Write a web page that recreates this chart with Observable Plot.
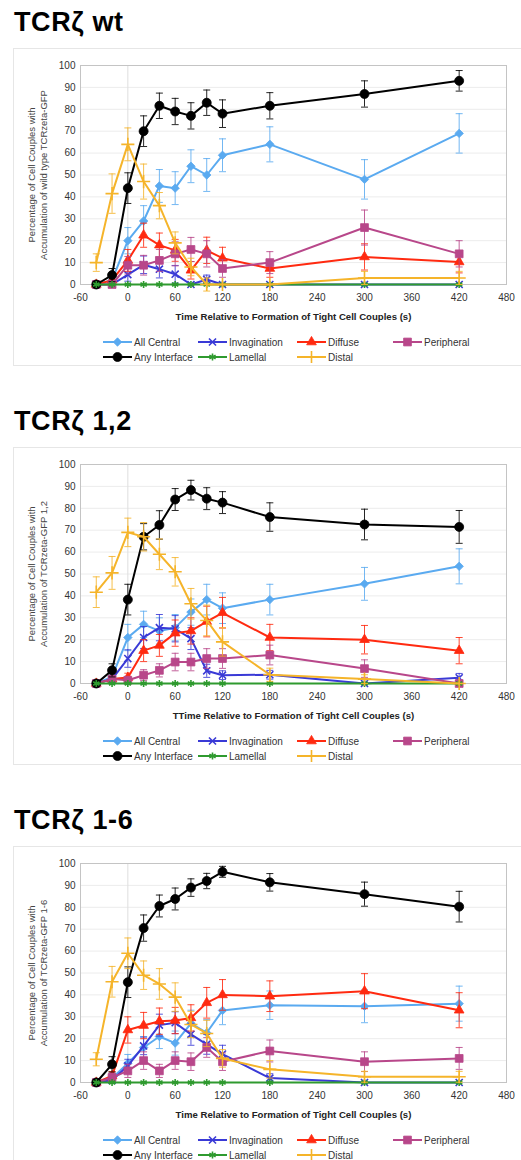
<!DOCTYPE html>
<html>
<head>
<meta charset="utf-8">
<script src="https://cdn.jsdelivr.net/npm/d3@7"></script>
<script src="https://cdn.jsdelivr.net/npm/@observablehq/plot@0.6"></script>
<style>
  html, body { margin: 0; padding: 0; background: #fff; }
  body { width: 521px; height: 1160px; overflow: hidden; font-family: "Liberation Sans", Arial, sans-serif; }
  .panel { position: relative; width: 521px; height: 399px; overflow: hidden; }
  .title { position: absolute; left: 14px; top: 7px; font-size: 27px; letter-spacing: 0.6px; font-weight: bold; color: #000; line-height: 30px; white-space: nowrap; }
  .box { position: absolute; left: 13px; top: 48px; width: 520px; height: 318px; border: 1px solid #e6e6e6; box-sizing: border-box; }
  .legend { position: absolute; left: 0; top: 335px; width: 521px; height: 30px; }
  .item { position: absolute; height: 14px; display: flex; align-items: center; font-size: 10px; color: #333; white-space: nowrap; }
  .item svg { margin-right: 2px; }
</style>
</head>
<body>
<div id="root"></div>
<script>
// ---- shared categories / ticks ----
const times = [-40, -20, 0, 20, 40, 60, 80, 100, 120, 180, 300, 420];
const seriesNames = ["All Central", "Invagination", "Diffuse", "Peripheral", "Any Interface", "Lamellal", "Distal"];
const seriesColors = ["#5aaaf0", "#3a3ad6", "#ff2a10", "#b8478a", "#000000", "#2f9a2f", "#f5b42a"];
const seriesSymbols = ["diamond2", "times", "triangle", "square", "circle", "asterisk", "plus"];
const xTicks = [-60, 0, 60, 120, 180, 240, 300, 360, 420, 480];
const yTicks = [0, 10, 20, 30, 40, 50, 60, 70, 80, 90, 100];
const titles = ["TCRζ wt", "TCRζ 1,2", "TCRζ 1-6"];
const yLabels = [
  "Percentage of Cell Couples with\nAccumulation of wild type TCRzeta-GFP",
  "Percentage of Cell Couples with\nAccumulation of TCRzeta-GFP 1,2",
  "Percentage of Cell Couples with\nAccumulation of TCRzeta-GFP 1-6"
];
const xLabels = [
  "Time Relative to Formation of Tight Cell Couples (s)",
  "TTime Relative to Formation of Tight Cell Couples (s)",
  "Time Relative to Formation of Tight Cell Couples (s)"
];

// ---- panel 1: wt ----
const wtAllCentral     = [0, 2, 20, 29, 45, 44, 54, 50, 59, 64, 48, 69];
const wtAllCentralErr  = [0, 2, 6, 7, 7.5, 7.5, 7.5, 7.5, 7.5, 8, 9, 9];
const wtInvagination   = [0, 0, 4.5, 9, 7, 4.7, 0, 2.3, 0, 0, 0, 0];
const wtInvaginationErr= [0, 0, 3, 4, 4, 4, 0, 2, 0, 0, 0, 0];
const wtDiffuse        = [0, 2, 11, 22.5, 18, 15.6, 6.5, 15.6, 12, 7.3, 12.6, 10.3];
const wtDiffuseErr     = [0, 2, 5, 5.5, 5.5, 5, 4, 6, 5, 4, 6, 5];
const wtPeripheral     = [0, 0, 8.8, 8.8, 11, 14, 16, 14, 7.3, 10, 26, 14];
const wtPeripheralErr  = [0, 0, 4, 4.5, 5, 5.5, 5.5, 6, 4, 5, 8, 6];
const wtAnyInterface   = [0, 4.3, 44, 70, 81.6, 79, 77, 83, 78, 81.6, 87, 93];
const wtAnyInterfaceErr= [0, 3, 7, 7, 5.8, 6, 6, 5.8, 6.3, 6, 6, 4.7];
const wtLamellal       = [0, 0, 0, 0, 0, 0, 0, 0, 0, 0, 0, 0];
const wtLamellalErr    = [0, 0, 0, 0, 0, 0, 0, 0, 0, 0, 0, 0];
const wtDistal         = [10, 41.5, 64, 47, 36, 19, 8, 0, 0, 0, 3, 3];
const wtDistalErr      = [4, 9, 7.5, 8, 6, 5, 4, 3, 0, 0, 3, 3];

// ---- panel 2: 1,2 ----
const m12AllCentral     = [0, 3, 21, 27, 24, 25.5, 32.6, 38.3, 34.4, 38.3, 45.5, 53.5];
const m12AllCentralErr  = [0, 2, 6, 6, 6, 6, 6, 7, 7, 7, 7.5, 8];
const m12Invagination   = [0, 2, 11.4, 21, 25.5, 25, 20.5, 5.8, 3.8, 4, 0, 2.6];
const m12InvaginationErr= [0, 1, 4, 5, 6, 6, 5, 3, 2, 2, 0, 2];
const m12Diffuse        = [0, 2, 2.7, 15, 17.4, 23, 24, 28.3, 32.3, 21, 20, 15];
const m12DiffuseErr     = [0, 1, 2, 5, 5, 6, 6, 7, 7, 6, 6.5, 6];
const m12Peripheral     = [0, 2, 1.5, 3.8, 6, 9.8, 9.8, 11.4, 11.4, 13, 6.8, 0];
const m12PeripheralErr  = [0, 1, 1.5, 2.5, 3, 4, 4, 4.5, 4.5, 4.5, 4, 0];
const m12AnyInterface   = [0, 6, 38.3, 67, 72.4, 84, 88.3, 84.4, 82.6, 76, 72.6, 71.5];
const m12AnyInterfaceErr= [0, 3, 7, 6, 6.5, 5, 4.5, 5, 5, 6.5, 7, 7.5];
const m12Lamellal       = [0, 0, 0, 0, 0, 0, 0, 0, 0, 0, 0, 0];
const m12LamellalErr    = [0, 0, 0, 0, 0, 0, 0, 0, 0, 0, 0, 0];
const m12Distal         = [41.7, 50.5, 69, 67, 59, 51, 36.4, 28.8, 19, 4, 2, 0];
const m12DistalErr      = [7, 7.5, 6.5, 6.5, 7, 6.5, 7, 7, 6.5, 3, 2, 0];

// ---- panel 3: 1-6 ----
const m16AllCentral     = [0, 2, 8.8, 16, 21, 18, 27, 22.7, 32.9, 35.3, 34.8, 36];
const m16AllCentralErr  = [0, 1, 4, 5, 5.5, 5.5, 6, 6, 6.5, 6.5, 7.5, 8];
const m16Invagination   = [0, 1, 7.6, 16.7, 26.2, 27.3, 22, 17.4, 13, 2, 0, 0];
const m16InvaginationErr= [0, 1, 3, 4, 5, 5, 5, 4.5, 4, 2, 0, 0];
const m16Diffuse        = [0, 3, 24, 26, 28, 28.3, 29.5, 36.4, 40, 39.4, 41.7, 33];
const m16DiffuseErr     = [0, 2, 6, 6, 6, 6, 6, 7, 7, 7, 8, 8];
const m16Peripheral     = [0, 2.3, 5.3, 10, 5.3, 10, 9.5, 16, 9.5, 14.4, 9.5, 11];
const m16PeripheralErr  = [0, 2, 3, 4, 3, 4, 4, 4.5, 4, 5, 4.5, 5];
const m16AnyInterface   = [0, 8.3, 45.8, 70.5, 80.6, 83.8, 89, 92, 96.2, 91.4, 86, 80.3];
const m16AnyInterfaceErr= [0, 3.5, 7, 6, 5, 5, 4, 3.5, 2.5, 4, 5.5, 7];
const m16Lamellal       = [0, 0, 0, 0, 0, 0, 0, 0, 0, 0, 0, 0];
const m16LamellalErr    = [0, 0, 0, 0, 0, 0, 0, 0, 0, 0, 0, 0];
const m16Distal         = [10.6, 46, 59, 49, 45, 39, 26.5, 22.4, 11, 6, 2.6, 2.6];
const m16DistalErr      = [3, 7, 7, 6.5, 7, 6.5, 6, 6, 4, 4, 2.5, 2.5];

const panelValues = [
  [wtAllCentral, wtInvagination, wtDiffuse, wtPeripheral, wtAnyInterface, wtLamellal, wtDistal],
  [m12AllCentral, m12Invagination, m12Diffuse, m12Peripheral, m12AnyInterface, m12Lamellal, m12Distal],
  [m16AllCentral, m16Invagination, m16Diffuse, m16Peripheral, m16AnyInterface, m16Lamellal, m16Distal]
];
const panelErrors = [
  [wtAllCentralErr, wtInvaginationErr, wtDiffuseErr, wtPeripheralErr, wtAnyInterfaceErr, wtLamellalErr, wtDistalErr],
  [m12AllCentralErr, m12InvaginationErr, m12DiffuseErr, m12PeripheralErr, m12AnyInterfaceErr, m12LamellalErr, m12DistalErr],
  [m16AllCentralErr, m16InvaginationErr, m16DiffuseErr, m16PeripheralErr, m16AnyInterfaceErr, m16LamellalErr, m16DistalErr]
];

// marker styling per symbol
const symR = { diamond2: 3.8, times: 3.3, triangle: 3.6, square: 4.4, circle: 4.5, asterisk: 3.4, plus: 4.3 };
const strokeSyms = new Set(["times", "asterisk", "plus"]);
const capSymbol = { draw(ctx, size) { const r = Math.sqrt(size / Math.PI); ctx.moveTo(-r, 0); ctx.lineTo(r, 0); } };

const FONT = "Liberation Sans, Arial, sans-serif";
const root = document.getElementById("root");

function buildPanel(p) {
  const panel = document.createElement("div");
  panel.className = "panel";
  const box = document.createElement("div"); box.className = "box"; panel.appendChild(box);
  const title = document.createElement("div"); title.className = "title"; title.textContent = titles[p]; panel.appendChild(title);

  const marks = [
    Plot.gridY(yTicks.slice(1, -1), { stroke: "#ececec", strokeOpacity: 1 }),
    Plot.ruleX([0], { stroke: "#dedede", strokeWidth: 1 }),
    Plot.frame({ stroke: "#c4c4c4" }),
    Plot.axisY({ ticks: yTicks, tickSize: 0, tickPadding: 5, fontSize: 10, label: null, tickFormat: d => String(d) }),
    Plot.axisX({ ticks: xTicks, tickSize: 0, tickPadding: 9, fontSize: 10, label: null, tickFormat: d => String(d) })
  ];

  seriesNames.forEach((name, s) => {
    const rows = times.map((t, i) => ({ t, v: panelValues[p][s][i], e: panelErrors[p][s][i] }));
    const errRows = rows.filter(d => d.e > 0);
    const color = seriesColors[s];
    const sym = seriesSymbols[s];
    marks.push(
      Plot.ruleX(errRows, { x: "t", y1: d => d.v - d.e, y2: d => d.v + d.e, stroke: color, strokeWidth: 1, strokeOpacity: 0.85 }),
      Plot.dot(errRows, { x: "t", y: d => d.v + d.e, symbol: capSymbol, r: 3.5, stroke: color, strokeWidth: 1, strokeOpacity: 0.85 }),
      Plot.dot(errRows, { x: "t", y: d => d.v - d.e, symbol: capSymbol, r: 3.5, stroke: color, strokeWidth: 1, strokeOpacity: 0.85 }),
      Plot.line(rows, { x: "t", y: "v", stroke: color, strokeWidth: 2 }),
      strokeSyms.has(sym)
        ? Plot.dot(rows, { x: "t", y: "v", symbol: sym, r: symR[sym], stroke: color, strokeWidth: 1.6 })
        : Plot.dot(rows, { x: "t", y: "v", symbol: sym, r: symR[sym], fill: color, stroke: color, strokeWidth: 0.8 })
    );
  });

  marks.push(
    Plot.text([yLabels[p]], { frameAnchor: "left", rotate: -90, dx: -43, textAnchor: "middle", lineAnchor: "middle", lineHeight: 1.2, fontSize: 9.5, fill: "#444" }),
    Plot.text([xLabels[p]], { frameAnchor: "bottom", dy: 32, textAnchor: "middle", lineAnchor: "middle", fontSize: 9.6, fontWeight: "bold", fill: "#222" })
  );

  const chart = Plot.plot({
    width: 521, height: 277,
    marginLeft: 80, marginRight: 15, marginTop: 17, marginBottom: 41,
    x: { domain: [-60, 480] },
    y: { domain: [0, 100] },
    style: { fontFamily: FONT, color: "#333", background: "transparent", overflow: "visible" },
    marks
  });
  chart.style.position = "absolute"; chart.style.left = "0px"; chart.style.top = "48px";
  panel.appendChild(chart);

  // legend
  const legend = document.createElement("div"); legend.className = "legend";
  const cols = [103, 198, 297, 393];
  seriesNames.forEach((name, s) => {
    const row = s < 4 ? 0 : 1, col = s < 4 ? s : s - 4;
    const item = document.createElement("div"); item.className = "item";
    item.style.left = cols[col] + "px"; item.style.top = (row === 0 ? 0 : 15) + "px";
    const sym = seriesSymbols[s];
    const d3sym = { diamond2: d3.symbolDiamond2, times: d3.symbolTimes, triangle: d3.symbolTriangle, square: d3.symbolSquare, circle: d3.symbolCircle, asterisk: d3.symbolAsterisk, plus: d3.symbolPlus }[sym];
    const r = symR[sym];
    const path = d3.symbol(d3sym, r * r * Math.PI)();
    const isStroke = strokeSyms.has(sym);
    item.innerHTML = `<svg width="29" height="12" viewBox="0 0 29 12"><line x1="0" x2="29" y1="6" y2="6" stroke="${seriesColors[s]}" stroke-width="2"/><path transform="translate(14.5,6)" d="${path}" fill="${isStroke ? "none" : seriesColors[s]}" stroke="${seriesColors[s]}" stroke-width="${isStroke ? 1.6 : 0.8}"/></svg><span>${name}</span>`;
    legend.appendChild(item);
  });
  panel.appendChild(legend);
  root.appendChild(panel);
}

[0, 1, 2].forEach(buildPanel);
</script>
</body>
</html>
